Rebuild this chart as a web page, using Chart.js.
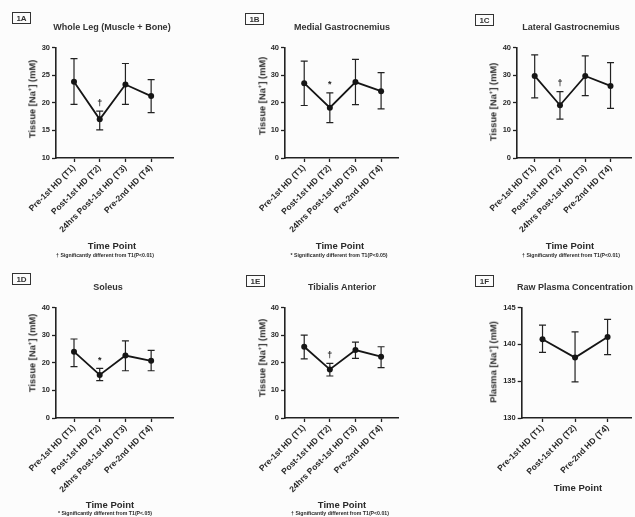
<!DOCTYPE html>
<html><head><meta charset="utf-8">
<script src="https://cdn.jsdelivr.net/npm/chart.js@4.4.1/dist/chart.umd.min.js"></script>
<style>
html,body{margin:0;padding:0}
body{width:635px;height:517px;background:#fcfcfc;position:relative;overflow:hidden;font-family:"Liberation Sans",Arial,Helvetica,sans-serif;color:#2a2a2a}
canvas{position:absolute}
.tx{position:absolute;white-space:nowrap;font-weight:bold;line-height:1;transform:translate(-50%,-50%)}
.title{font-size:9px;color:#333}
.ytitle{font-size:9.3px;transform:translate(-50%,-50%) rotate(-90deg)}
.ytitle sup{font-size:6px;line-height:0}
.xtitle{font-size:9.5px}
.foot{font-size:5.2px}
.box{position:absolute;border:1.5px solid #333;font-weight:bold;font-size:8px;display:flex;align-items:center;justify-content:center;box-sizing:border-box;color:#333}
</style></head><body>
<script>
// ---------- DATA ----------
const tissueTimePoints = ['Pre-1st HD (T1)', 'Post-1st HD (T2)', '24hrs Post-1st HD (T3)', 'Pre-2nd HD (T4)'];
const plasmaTimePoints = ['Pre-1st HD (T1)', 'Post-1st HD (T2)', 'Pre-2nd HD (T4)'];

const wholeLegYTicks = [10, 15, 20, 25, 30];
const tissueYTicks   = [0, 10, 20, 30, 40];
const plasmaYTicks   = [130, 135, 140, 145];

const wholeLegMean  = [23.8, 17.0, 23.3, 21.2];
const wholeLegUpper = [28.0, 18.5, 27.1, 24.2];
const wholeLegLower = [19.7, 15.1, 19.7, 18.2];
const wholeLegSig   = ['', '\u2020', '', ''];

const medialGastMean  = [27.1, 18.2, 27.5, 24.2];
const medialGastUpper = [35.1, 23.6, 35.7, 30.9];
const medialGastLower = [19.0, 12.8, 19.3, 17.8];
const medialGastSig   = ['', '*', '', ''];

const lateralGastMean  = [29.7, 19.1, 29.7, 26.1];
const lateralGastUpper = [37.3, 24.0, 37.0, 34.5];
const lateralGastLower = [21.8, 14.1, 22.6, 18.0];
const lateralGastSig   = ['', '\u2020', '', ''];

const soleusMean  = [24.0, 15.6, 22.6, 20.7];
const soleusUpper = [28.6, 18.0, 27.9, 24.5];
const soleusLower = [18.6, 13.5, 17.1, 17.1];
const soleusSig   = ['', '*', '', ''];

const tibialisMean  = [25.8, 17.6, 24.6, 22.2];
const tibialisUpper = [30.0, 19.8, 27.5, 25.8];
const tibialisLower = [21.4, 15.2, 21.6, 18.2];
const tibialisSig   = ['', '\u2020', '', ''];

const plasmaMean  = [140.7, 138.2, 141.0];
const plasmaUpper = [142.6, 141.7, 143.4];
const plasmaLower = [138.9, 134.9, 138.6];
const plasmaSig   = ['', '', ''];

// ---------- RENDERING ----------
const FONT = '"Liberation Sans", Arial, Helvetica, sans-serif';
const INK = '#222';

const errorBarPlugin = {
  id: 'errbars',
  beforeDatasetsDraw(chart) {
    const {ctx, scales: {x, y}} = chart;
    const ds = chart.data.datasets[0];
    ctx.save();
    ctx.strokeStyle = INK;
    ctx.lineWidth = 1.2;
    ds.errUpper.forEach((hi, i) => {
      const px = x.getPixelForValue(i);
      const yh = y.getPixelForValue(hi);
      const yl = y.getPixelForValue(ds.errLower[i]);
      ctx.beginPath();
      ctx.moveTo(px, yh); ctx.lineTo(px, yl);
      ctx.moveTo(px - 3.5, yh); ctx.lineTo(px + 3.5, yh);
      ctx.moveTo(px - 3.5, yl); ctx.lineTo(px + 3.5, yl);
      ctx.stroke();
    });
    ctx.restore();
  },
  afterDatasetsDraw(chart) {
    const {ctx, scales: {x, y}} = chart;
    const ds = chart.data.datasets[0];
    ctx.save();
    ctx.fillStyle = INK;
    ctx.textAlign = 'center';
    ctx.textBaseline = 'middle';
    ctx.font = 'bold 9px ' + FONT;
    ds.sig.forEach((s, i) => {
      if (!s) return;
      ctx.fillText(s, x.getPixelForValue(i), y.getPixelForValue(ds.errUpper[i]) - 8);
    });
    ctx.restore();
  }
};

function makePanel(p) {
  const c = document.createElement('canvas');
  c.width = p.w; c.height = 260;
  c.style.left = p.left + 'px'; c.style.top = p.top + 'px';
  c.style.width = p.w + 'px'; c.style.height = '260px';
  document.body.appendChild(c);
  const XH = 88, AREA_TOP = 47.5, AREA_BOTTOM = 158;
  const axisStyle = {
    grid: {drawOnChartArea: false, drawTicks: true, tickLength: 4, tickColor: INK, tickWidth: 1.3},
    border: {display: true, color: INK, width: 1.6}
  };
  new Chart(c, {
    type: 'line',
    data: {
      datasets: [{
        data: p.mean.map((m, i) => ({x: i, y: m})),
        errUpper: p.upper, errLower: p.lower, sig: p.sig,
        borderColor: '#151515', borderWidth: 1.8,
        pointRadius: 3, pointBackgroundColor: '#151515', pointBorderWidth: 0,
        tension: 0, fill: false, clip: false
      }]
    },
    options: {
      responsive: false, animation: false, devicePixelRatio: 1,
      layout: {padding: {left: 0, top: AREA_TOP, right: p.w - p.right, bottom: 260 - AREA_BOTTOM - XH}},
      plugins: {legend: {display: false}, tooltip: {enabled: false}},
      scales: {
        x: Object.assign({
          type: 'linear', min: p.xmin, max: p.xmax,
          afterBuildTicks: s => { s.ticks = p.cats.map((_, i) => ({value: i})); },
          afterFit: s => { s.height = XH; },
          ticks: {autoSkip: false, minRotation: 45, maxRotation: 45, padding: 1,
                  font: {family: FONT, size: 8.5, weight: 'bold'}, color: '#2a2a2a',
                  callback: (v, i) => p.cats[i]}
        }, axisStyle),
        y: Object.assign({
          type: 'linear', min: p.yTicks[0], max: p.yTicks[p.yTicks.length - 1],
          afterBuildTicks: s => { s.ticks = p.yTicks.map(v => ({value: v})); },
          afterFit: s => { s.width = p.axisX; },
          ticks: {padding: 2, font: {family: FONT, size: 7.5, weight: 'bold'}, color: '#2a2a2a'}
        }, axisStyle)
      }
    },
    plugins: [errorBarPlugin]
  });
}

function addText(cls, html, x, y, align) {
  const d = document.createElement('div');
  d.className = 'tx ' + cls;
  d.innerHTML = html;
  d.style.left = x + 'px'; d.style.top = y + 'px';
  if (align === 'left') d.style.transform = 'translate(0,-50%)';
  document.body.appendChild(d);
}
function addBox(txt, x, y) {
  const d = document.createElement('div');
  d.className = 'box';
  d.textContent = txt;
  d.style.left = x + 'px'; d.style.top = y + 'px';
  d.style.width = '19px'; d.style.height = '12px';
  document.body.appendChild(d);
}

const tissueTitle = 'Tissue [Na<sup>+</sup>] (mM)';
const plasmaTitle = 'Plasma [Na<sup>+</sup>] (mM)';
const foot01 = '\u2020 Significantly different from T1(P&lt;0.01)';
const foot05 = '* Significantly different from T1(P&lt;0.05)';

const panels = [
  {left: 0,   top: 0,   w: 210, axisX: 56,  right: 173, xmin: -0.70, xmax: 3.85, cats: tissueTimePoints, yTicks: wholeLegYTicks, mean: wholeLegMean, upper: wholeLegUpper, lower: wholeLegLower, sig: wholeLegSig,
   box: ['1A', 12, 12], title: ['Whole Leg (Muscle + Bone)', 112, 27], ytitle: [tissueTitle, 33, 99], xtitle: [112, 246], foot: [foot01, 105, 256]},
  {left: 210, top: 0,   w: 210, axisX: 75,  right: 188, xmin: -0.75, xmax: 3.66, cats: tissueTimePoints, yTicks: tissueYTicks, mean: medialGastMean, upper: medialGastUpper, lower: medialGastLower, sig: medialGastSig,
   box: ['1B', 245, 13], title: ['Medial Gastrocnemius', 342, 27], ytitle: [tissueTitle, 263, 96], xtitle: [340, 246], foot: [foot05, 339, 256]},
  {left: 420, top: 0,   w: 215, axisX: 97,  right: 213, xmin: -0.70, xmax: 3.81, cats: tissueTimePoints, yTicks: tissueYTicks, mean: lateralGastMean, upper: lateralGastUpper, lower: lateralGastLower, sig: lateralGastSig,
   box: ['1C', 475, 14], title: ['Lateral Gastrocnemius', 571, 27], ytitle: [tissueTitle, 494, 102], xtitle: [570, 246], foot: [foot01, 571, 256]},
  {left: 0,   top: 260, w: 210, axisX: 56,  right: 173, xmin: -0.70, xmax: 3.85, cats: tissueTimePoints, yTicks: tissueYTicks, mean: soleusMean, upper: soleusUpper, lower: soleusLower, sig: soleusSig,
   box: ['1D', 12, 273], title: ['Soleus', 108, 287], ytitle: [tissueTitle, 33, 353], xtitle: [110, 505], foot: ['* Significantly different from T1(P&lt;.05)', 105, 514]},
  {left: 210, top: 260, w: 210, axisX: 75,  right: 188, xmin: -0.75, xmax: 3.66, cats: tissueTimePoints, yTicks: tissueYTicks, mean: tibialisMean, upper: tibialisUpper, lower: tibialisLower, sig: tibialisSig,
   box: ['1E', 246, 275], title: ['Tibialis Anterior', 342, 287], ytitle: [tissueTitle, 263, 358], xtitle: [342, 505], foot: [foot01, 340, 514]},
  {left: 420, top: 260, w: 215, axisX: 101.7, right: 215, xmin: -0.64, xmax: 2.72, cats: plasmaTimePoints, yTicks: plasmaYTicks, mean: plasmaMean, upper: plasmaUpper, lower: plasmaLower, sig: plasmaSig,
   box: ['1F', 475, 275], title: ['Raw Plasma Concentration', 517, 287, 'left'], ytitle: [plasmaTitle, 494, 362], xtitle: [578, 488], foot: null}
];

panels.forEach(p => {
  makePanel(p);
  addBox(p.box[0], p.box[1], p.box[2]);
  addText('title', p.title[0], p.title[1], p.title[2], p.title[3]);
  addText('ytitle', p.ytitle[0], p.ytitle[1], p.ytitle[2]);
  addText('xtitle', 'Time Point', p.xtitle[0], p.xtitle[1]);
  if (p.foot) addText('foot', p.foot[0], p.foot[1], p.foot[2]);
});
</script>
</body></html>
